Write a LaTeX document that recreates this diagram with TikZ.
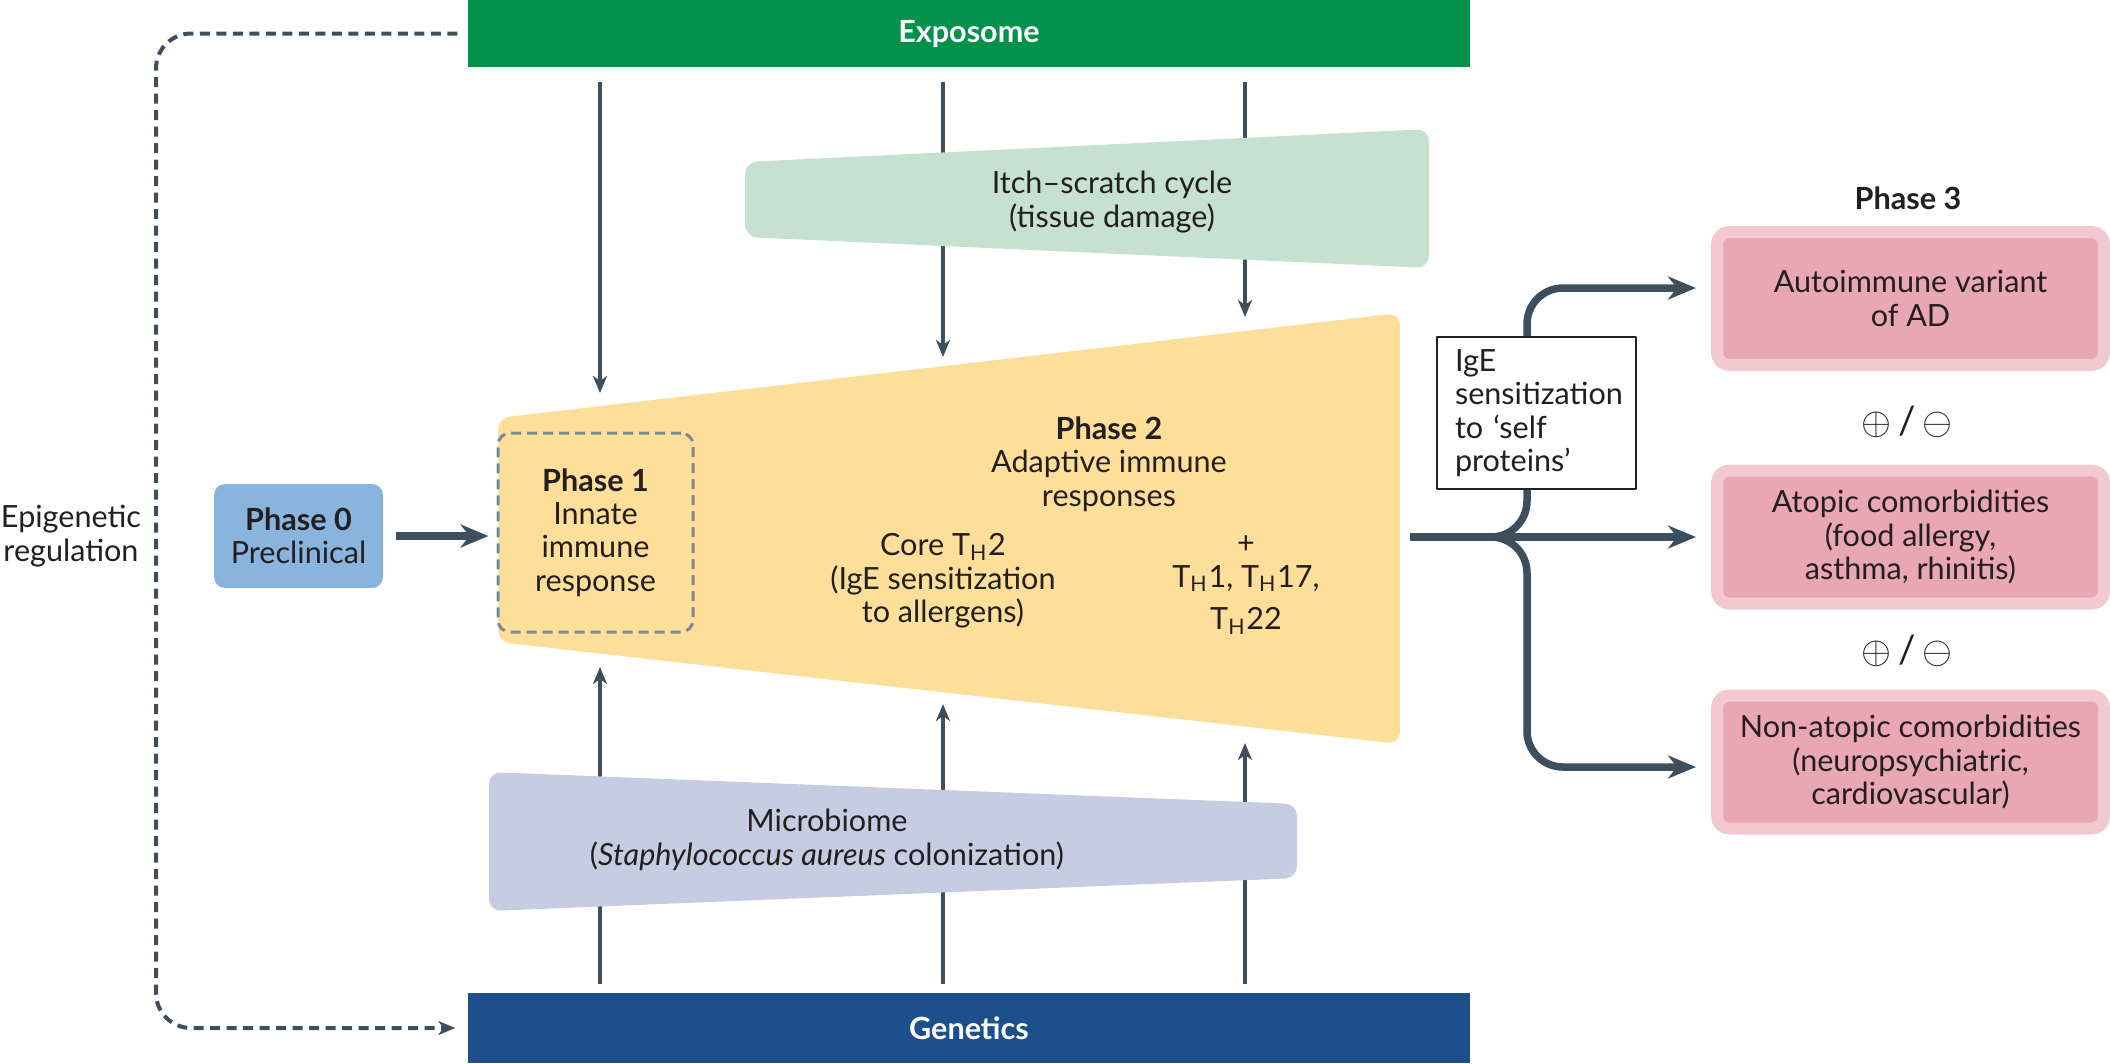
\documentclass[tikz,border=0pt]{standalone}
\usepackage{fontspec}
\setmainfont{Lato}
\usetikzlibrary{arrows.meta,positioning}
\definecolor{expogreen}{HTML}{00924A}
\definecolor{genblue}{HTML}{1D4F8A}
\definecolor{slate}{HTML}{3D4F5C}
\definecolor{inkdark}{HTML}{231F20}
\definecolor{phaseyellow}{HTML}{FDDF9A}
\definecolor{itchgreen}{HTML}{C6E1D0}
\definecolor{microlav}{HTML}{C6CCE2}
\definecolor{preblue}{HTML}{89B4DD}
\definecolor{pinkout}{HTML}{F2C9D1}
\definecolor{pinkin}{HTML}{E8A7B3}
\definecolor{dashgray}{HTML}{7A8B98}
\newcommand{\Th}{T\textsubscript{H}}
\begin{document}
\begin{tikzpicture}[x=0.1mm, y=-0.1mm, font=\fontsize{8.7}{9.5}\selectfont, text=inkdark, line join=round,
		link/.style={draw=slate, line width=0.4mm, -{Stealth[length=1.7mm, width=1.4mm, inset=0.5mm]}},
		bigarrow/.style={draw=slate, line width=0.75mm, -{Stealth[length=2.8mm, width=2.3mm, inset=0.9mm]}},
		epiline/.style={link, dash pattern=on 1mm off 0.65mm, rounded corners=3.5mm},
		bar/.style={minimum width=100.2mm, inner sep=0pt, text=white, font=\fontsize{8.7}{9.5}\selectfont\bfseries},
		outcome/.style={draw=pinkout, fill=pinkin, line width=1.2mm, rounded corners=1.2mm, minimum width=38.7mm, minimum height=13.3mm, align=center},
		igebox/.style={draw=inkdark, line width=0.15mm, fill=white, text width=16.3mm, inner xsep=1.8mm, inner ysep=0.8mm, minimum height=15.2mm, align=left}]
				\useasboundingbox (0,0) rectangle (2110,1063);
				\node[bar, fill=expogreen, minimum height=6.7mm] (expo) at (969,33.5) {Exposome};
				\node[bar, fill=genblue, minimum height=7mm] (gene) at (969,1028) {Genetics};
				\path
				(600,393) coordinate (e1)
				(943,357) coordinate (e2)
				(1245,317) coordinate (e3)
				(600,667) coordinate (g1)
				(943,704) coordinate (g2)
				(1245,743) coordinate (g3)
				(156,534) coordinate (bend)
				(1410,537) coordinate (out)
				(1488,537) coordinate (junc)
				(1527,537) coordinate (stem)
				(1696,288) coordinate (t1)
				(1696,537) coordinate (t2)
				(1696,767) coordinate (t3)
				;
				\foreach \i in {1,2,3}{
					\draw[link, shorten <=1.4mm] (expo.south -| e\i) -- (e\i);
					\draw[link, shorten <=0.8mm] (gene.north -| g\i) -- (g\i);
				}
				\fill[phaseyellow, rounded corners=1.2mm] (949,365.5) -- (1400,313) -- (1400,744) -- (498,642) -- (498,418) -- cycle;
				\fill[itchgreen, rounded corners=1.2mm] (1087,145.5) -- (1429,129) -- (1429,268) -- (745,237) -- (745,162) -- cycle;
				\fill[microlav, rounded corners=1.2mm] (893,788) -- (1297,804) -- (1297,878) -- (489,911) -- (489,772) -- cycle;
				\node[align=center] (itch) at (1112,202) {Itch--scratch cycle\\(tissue damage)};
				\node[align=center] (micro) at (827,840) {Microbiome\\(\textit{Staphylococcus aureus} colonization)};
				\node[align=center] (epi) at (71,536) {Epigenetic\\regulation};
				\draw[epiline, shorten <=1mm, shorten >=1.2mm] (expo.west) -| (bend) |- (gene.west);
				\node[fill=preblue, rounded corners=1.1mm, minimum width=16.9mm, minimum height=10.4mm, align=center] (p0) at (298.5,536) {\textbf{Phase 0}\\Preclinical};
				\node[draw=dashgray, line width=0.3mm, dash pattern=on 1mm off 0.6mm, rounded corners=1.2mm, minimum width=19.5mm, minimum height=19.9mm, align=center] (p1) at (595.5,532.5) {\textbf{Phase 1}\\Innate\\immune\\response};
				\draw[bigarrow, shorten <=1.2mm, shorten >=0.8mm] (p0.east) -- (p0.east -| p1.west);
				\node[align=center] (p2) at (1109,464) {\textbf{Phase 2}\\Adaptive immune\\responses};
				\node[align=center] (core) at (943,581) {Core \Th2\\(IgE sensitization\\to allergens)};
				\node[align=center] (extra) at (1246,585) {+\\\Th1, \Th17,\\[0.9mm]\Th22};
				\draw[bigarrow] (out) -- (t2);
				\draw[bigarrow, rounded corners=3.6mm] (junc) -| (stem |- t1) -- (t1);
				\draw[bigarrow, rounded corners=3.6mm] (junc) -| (stem |- t3) -- (t3);
				\node[igebox] (ige) at (1536.5,413) {IgE\\sensitization\\to `self\\proteins'};
				\node[font=\fontsize{8.7}{9.5}\selectfont\bfseries] (ph3) at (1908,198) {Phase 3};
				\node[outcome] (b1) at (1910.5,298.5) {Autoimmune variant\\of AD};
				\node[outcome] (b2) at (1910.5,537) {Atopic comorbidities\\(food allergy,\\asthma, rhinitis)};
				\node[outcome] (b3) at (1910.5,762) {Non-atopic comorbidities\\(neuropsychiatric,\\cardiovascular)};
				\foreach \y [count=\k] in {422,651}
				\node[font=\fontsize{11}{12}\selectfont] (pm\k) at (1907,\y) {$\oplus$\,/\,$\ominus$};
		\end{tikzpicture}
\end{document}
